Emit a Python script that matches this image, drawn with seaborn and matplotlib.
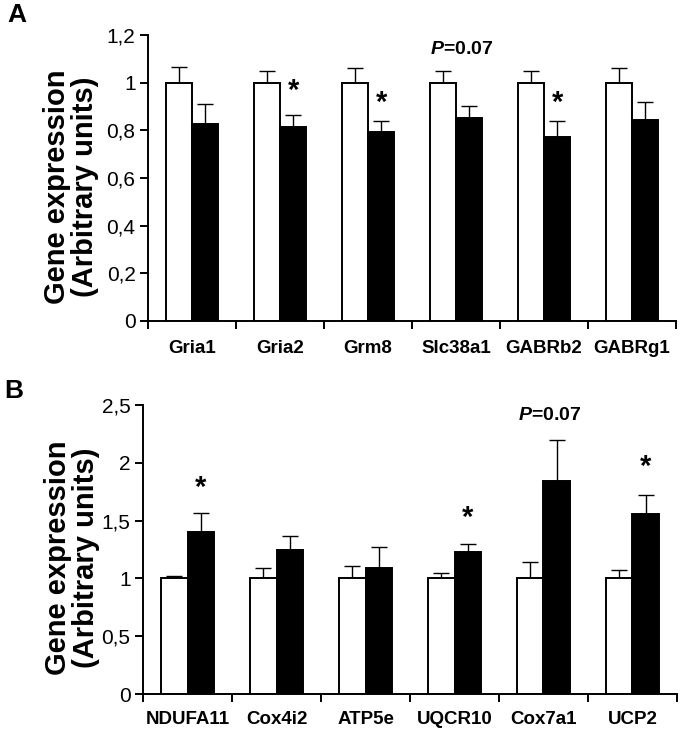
import numpy as np
import pandas as pd
import matplotlib
matplotlib.use("Agg")
import matplotlib.pyplot as plt
import seaborn as sns

# Panel A: neurotransmission genes
genes_a = ['Gria1', 'Gria2', 'Grm8', 'Slc38a1', 'GABRb2', 'GABRg1']
ctrl_a = [1.0, 1.0, 1.0, 1.0, 1.0, 1.0]
ctrl_a_err = [0.067, 0.05, 0.06, 0.05, 0.05, 0.06]
trt_a = [0.825, 0.815, 0.793, 0.853, 0.773, 0.843]
trt_a_err = [0.087, 0.048, 0.045, 0.047, 0.065, 0.077]
stars_a = ['Gria2', 'Grm8', 'GABRb2']
star_y_a = [0.965, 0.915, 0.915]

# Panel B: mitochondrial genes
genes_b = ['NDUFA11', 'Cox4i2', 'ATP5e', 'UQCR10', 'Cox7a1', 'UCP2']
ctrl_b = [1.0, 1.0, 1.0, 1.0, 1.0, 1.0]
ctrl_b_err = [0.02, 0.09, 0.11, 0.05, 0.14, 0.07]
trt_b = [1.40, 1.25, 1.09, 1.23, 1.84, 1.56]
trt_b_err = [0.17, 0.12, 0.18, 0.07, 0.36, 0.16]
stars_b = ['NDUFA11', 'UQCR10', 'UCP2']
star_y_b = [1.78, 1.52, 1.96]

groups = ['Control', 'Treated']

sns.set_theme(style='ticks')
plt.rcParams['font.family'] = ['Liberation Sans', 'DejaVu Sans']
plt.rcParams['text.color'] = 'black'
plt.rcParams['axes.labelcolor'] = 'black'
plt.rcParams['xtick.color'] = 'black'
plt.rcParams['ytick.color'] = 'black'
plt.rcParams['mathtext.fontset'] = 'custom'
plt.rcParams['mathtext.bfit'] = 'Liberation Sans:italic:bold'
plt.rcParams['mathtext.bf'] = 'Liberation Sans:bold'
narrow = ['Liberation Sans Narrow', 'Liberation Sans', 'DejaVu Sans']


def draw_panel(ax, genes, ctrl, ctrl_err, trt, trt_err, ymax, step, stars, star_y,
               pval_gene, pval_y, xpad):
    df = pd.DataFrame({
        'gene': genes * 2,
        'value': ctrl + trt,
        'group': [groups[0]] * len(genes) + [groups[1]] * len(genes),
    })
    sns.barplot(data=df, x='gene', y='value', hue='group', palette=['white', 'black'],
                edgecolor='black', linewidth=1.4, width=0.6, errorbar=None,
                legend=False, ax=ax, zorder=2)
    # upward-only error bars on top of each bar
    for cont, err in zip(ax.containers, [ctrl_err, trt_err]):
        xs = [b.get_x() + b.get_width() / 2 for b in cont]
        hs = [b.get_height() for b in cont]
        ax.errorbar(xs, hs, yerr=[np.zeros(len(err)), err], fmt='none',
                    ecolor='black', elinewidth=1.0, capsize=6, capthick=1.0, zorder=1)
    # significance stars above treated bars
    trt_bars = ax.containers[1]
    for g, sy in zip(stars, star_y):
        b = trt_bars[genes.index(g)]
        ax.text(b.get_x() + b.get_width() / 2, sy, '*', ha='center', va='center',
                fontsize=21, fontweight='bold')
    gi = genes.index(pval_gene)
    ax.text(gi + 0.07, pval_y, r'$\bfit{P}$' + '=0.07', ha='center', va='center',
            fontsize=14, fontweight='bold')

    ax.set_ylim(0, ymax)
    ax.set_xlim(-0.5, len(genes) - 0.5)
    yt = np.arange(0, ymax + 1e-9, step)
    ax.set_yticks(yt)
    ax.set_yticklabels([('%g' % v).replace('.', ',') for v in yt], fontsize=15,
                       family=narrow)
    ax.set_xticks(range(len(genes)))
    ax.set_xticklabels(genes, fontsize=13.5, fontweight='bold')
    ax.set_xticks(np.arange(-0.5, len(genes)), minor=True)
    ax.tick_params(axis='x', which='major', length=0, pad=xpad)
    ax.tick_params(axis='x', which='minor', length=6, width=1.4, direction='out')
    ax.tick_params(axis='y', length=6, width=1.4, direction='out', pad=3)
    ax.set_xlabel('')
    ax.set_ylabel('Gene expression\n(Arbitrary units)', fontsize=21, fontweight='bold',
                  linespacing=1.0)
    sns.despine(ax=ax)
    for s in ['left', 'bottom']:
        ax.spines[s].set_color('black')
        ax.spines[s].set_linewidth(1.4)


fig = plt.figure(figsize=(6.83, 7.3), dpi=100)
ax_a = fig.add_axes([0.2167, 0.5603, 0.7731, 0.3918])
ax_b = fig.add_axes([0.2094, 0.0493, 0.7818, 0.3959])

draw_panel(ax_a, genes_a, ctrl_a, ctrl_a_err, trt_a, trt_a_err, 1.2, 0.2,
           stars_a, star_y_a, 'Slc38a1', 1.137, 14)
draw_panel(ax_b, genes_b, ctrl_b, ctrl_b_err, trt_b, trt_b_err, 2.5, 0.5,
           stars_b, star_y_b, 'Cox7a1', 2.405, 12)

ax_a.yaxis.set_label_coords(-0.092, 0.47)
ax_b.yaxis.set_label_coords(-0.081, 0.47)

fig.text(0.025, 0.979, 'A', fontsize=19, fontweight='bold', ha='center', va='center')
fig.text(0.02, 0.464, 'B', fontsize=19, fontweight='bold', ha='center', va='center')

fig.savefig('out.png', dpi=100, facecolor='white')
